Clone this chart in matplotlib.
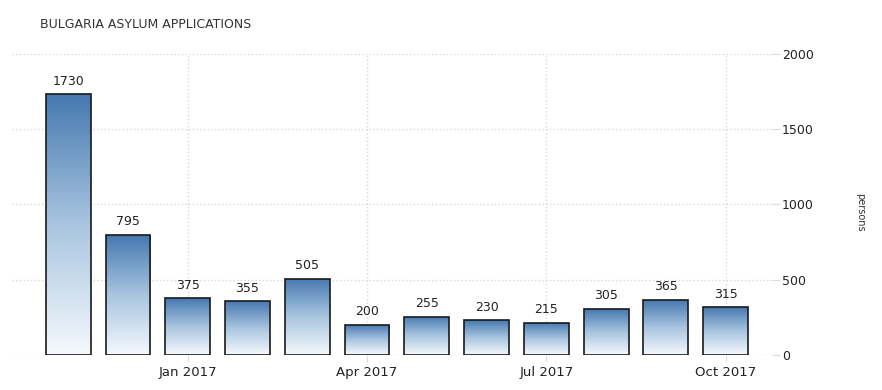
import numpy as np
import matplotlib
matplotlib.use("Agg")
import matplotlib.pyplot as plt
from matplotlib.colors import LinearSegmentedColormap

months = ["Nov 2016", "Dec 2016", "Jan 2017", "Feb 2017", "Mar 2017", "Apr 2017",
          "May 2017", "Jun 2017", "Jul 2017", "Aug 2017", "Sep 2017", "Oct 2017"]
applications = [1730, 795, 375, 355, 505, 200, 255, 230, 215, 305, 365, 315]
tick_labels = ["Jan 2017", "Apr 2017", "Jul 2017", "Oct 2017"]
y_ticks = [0, 500, 1000, 1500, 2000]

fig = plt.figure(figsize=(8.82, 3.90), dpi=100)
ax = fig.add_axes([0.0136, 0.09, 0.862, 0.772])

x = np.arange(len(months))
width = 0.75
bars = ax.bar(x, applications, width=width, facecolor="none",
              edgecolor="#1a1a1a", linewidth=1.2, zorder=3)

# vertical gradient, dark blue on top fading to white
cmap = LinearSegmentedColormap.from_list("grad", ["#f5f9fd", "#a9c5e0", "#4679b0"])
grad = np.linspace(0, 1, 256).reshape(-1, 1)
for b, v in zip(bars, applications):
    bx = b.get_x()
    im = ax.imshow(grad, cmap=cmap, aspect="auto", origin="lower",
                   extent=[bx, bx + width, 0, v], zorder=2)
    im.set_clip_path(b)
    ax.text(bx + width / 2, v + 45, str(v), ha="center", va="bottom",
            fontsize=9, color="#222222")

ax.set_xlim(-0.94, 11.78)
ax.set_ylim(0, 2000)

ax.set_xticks([months.index(m) for m in tick_labels])
ax.set_xticklabels(tick_labels, fontsize=9.5, color="#222222")
ax.yaxis.tick_right()
ax.set_yticks(y_ticks)
ax.set_yticklabels([str(t) for t in y_ticks], fontsize=9, color="#222222")
ax.tick_params(axis="y", length=6, color="#dddddd", pad=1)
ax.tick_params(axis="x", length=5, color="#dddddd", pad=3)

ax.grid(True, color="#d8d8d8", linestyle=":", linewidth=1, zorder=0)
for s in ax.spines.values():
    s.set_visible(False)

fig.text(0.045, 0.937, "BULGARIA ASYLUM APPLICATIONS", fontsize=9,
         color="#333333", ha="left", va="center")
fig.text(0.975, 0.455, "persons", rotation=-90, fontsize=7,
         color="#333333", ha="center", va="center")

fig.savefig("out.png", dpi=100)
